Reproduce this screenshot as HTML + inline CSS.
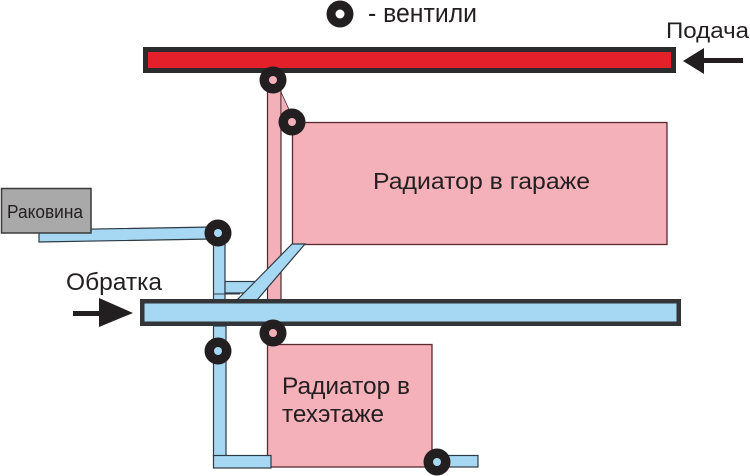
<!DOCTYPE html>
<html>
<head>
<meta charset="utf-8">
<style>
html,body{margin:0;padding:0;background:#fff;}
svg{display:block;}
text{font-family:"Liberation Sans",Arial,sans-serif;fill:#231f20;}
</style>
</head>
<body>
<svg width="750" height="476" viewBox="0 0 750 476" xmlns="http://www.w3.org/2000/svg">
  <rect x="0" y="0" width="750" height="476" fill="#ffffff"/>

  <!-- Legend -->
  <circle cx="340" cy="14" r="13.5" fill="#231f20"/>
  <circle cx="340" cy="14" r="4.5" fill="#ffffff"/>
  <text x="368" y="22" font-size="27" textLength="109" lengthAdjust="spacingAndGlyphs">- вентили</text>

  <!-- Подача -->
  <text x="666" y="38" font-size="22" textLength="83" lengthAdjust="spacingAndGlyphs">Подача</text>
  <rect x="700" y="58" width="43" height="5" fill="#231f20"/>
  <polygon points="683,61 704,48 704,74" fill="#231f20"/>

  <!-- Red supply bar -->
  <rect x="145.5" y="49.5" width="528" height="21" fill="#e4202a" stroke="#2b2b2b" stroke-width="5"/>

  <!-- Pink vertical pipe -->
  <rect x="267.5" y="80" width="13.5" height="220" fill="#f3b0b8" stroke="#4a2a2e" stroke-width="1.2"/>
  <polygon points="281,92 292,116 281,116" fill="#f3b0b8" stroke="#4a2a2e" stroke-width="0.8"/>

  <!-- Radiator garage -->
  <rect x="292.5" y="122.5" width="374.5" height="122" fill="#f4b1b9" stroke="#5a2a30" stroke-width="1.3"/>
  <text x="373" y="189" font-size="23" textLength="217" lengthAdjust="spacingAndGlyphs">Радиатор в гараже</text>

  <!-- Blue pipes upper -->
  <polygon points="39,230 212,227 212,239 39,242" fill="#a6d8f3" stroke="#2e3a44" stroke-width="1.2"/>
  <rect x="213.5" y="233" width="11.5" height="67" fill="#a6d8f3" stroke="#2e3a44" stroke-width="1.2"/>
  <rect x="225" y="281.5" width="32" height="11.5" fill="#a6d8f3" stroke="#2e3a44" stroke-width="1.2"/>
  <line x1="213" y1="294" x2="240" y2="294" stroke="#2e3a44" stroke-width="1"/>
  <polygon points="237,300 257,300 305,244 292,244" fill="#a6d8f3" stroke="#2e3a44" stroke-width="1.2"/>

  <!-- Blue return bar -->
  <rect x="142.25" y="301.25" width="536.5" height="22.5" fill="#a6d8f3" stroke="#333538" stroke-width="4.5"/>

  <!-- Обратка -->
  <text x="66" y="290" font-size="24" textLength="96" lengthAdjust="spacingAndGlyphs">Обратка</text>
  <rect x="73" y="311" width="30" height="5" fill="#231f20"/>
  <polygon points="99,298 133,313 99,327" fill="#231f20"/>

  <!-- Lower radiator -->
  <rect x="267.5" y="344.5" width="164.5" height="122.5" fill="#f4b1b9" stroke="#5a2a30" stroke-width="1.3"/>
  <text x="282" y="394" font-size="24" textLength="128" lengthAdjust="spacingAndGlyphs">Радиатор в</text>
  <text x="282" y="422" font-size="24" textLength="102" lengthAdjust="spacingAndGlyphs">техэтаже</text>

  <!-- Lower blue pipes -->
  <rect x="213.5" y="326" width="12.5" height="130" fill="#a6d8f3" stroke="#2e3a44" stroke-width="1.2"/>
  <rect x="213.5" y="455.5" width="57.5" height="12.5" fill="#a6d8f3" stroke="#2e3a44" stroke-width="1.2"/>
  <rect x="437" y="455.5" width="41" height="11.5" fill="#a6d8f3" stroke="#2e3a44" stroke-width="1.2"/>

  <!-- Раковина -->
  <rect x="1.5" y="188.5" width="89.5" height="44.5" fill="#a9a9a9" stroke="#3a3a3a" stroke-width="1.5"/>
  <text x="7" y="218" font-size="18" textLength="76" lengthAdjust="spacingAndGlyphs">Раковина</text>

  <!-- Valves -->
  <circle cx="273" cy="80" r="13.5" fill="#231f20"/>
  <circle cx="273" cy="80" r="4" fill="#f3b0b8"/>
  <circle cx="292" cy="122" r="13.5" fill="#231f20"/>
  <circle cx="292" cy="122" r="4" fill="#f3b0b8"/>
  <circle cx="218" cy="233" r="13.5" fill="#231f20"/>
  <circle cx="218" cy="233" r="4" fill="#a6d8f3"/>
  <circle cx="273" cy="333" r="13.5" fill="#231f20"/>
  <circle cx="273" cy="333" r="4" fill="#f3b0b8"/>
  <circle cx="218" cy="351" r="13.5" fill="#231f20"/>
  <circle cx="218" cy="351" r="4" fill="#a6d8f3"/>
  <circle cx="437" cy="462" r="13.5" fill="#231f20"/>
  <circle cx="437" cy="462" r="4" fill="#a6d8f3"/>
</svg>
</body>
</html>
